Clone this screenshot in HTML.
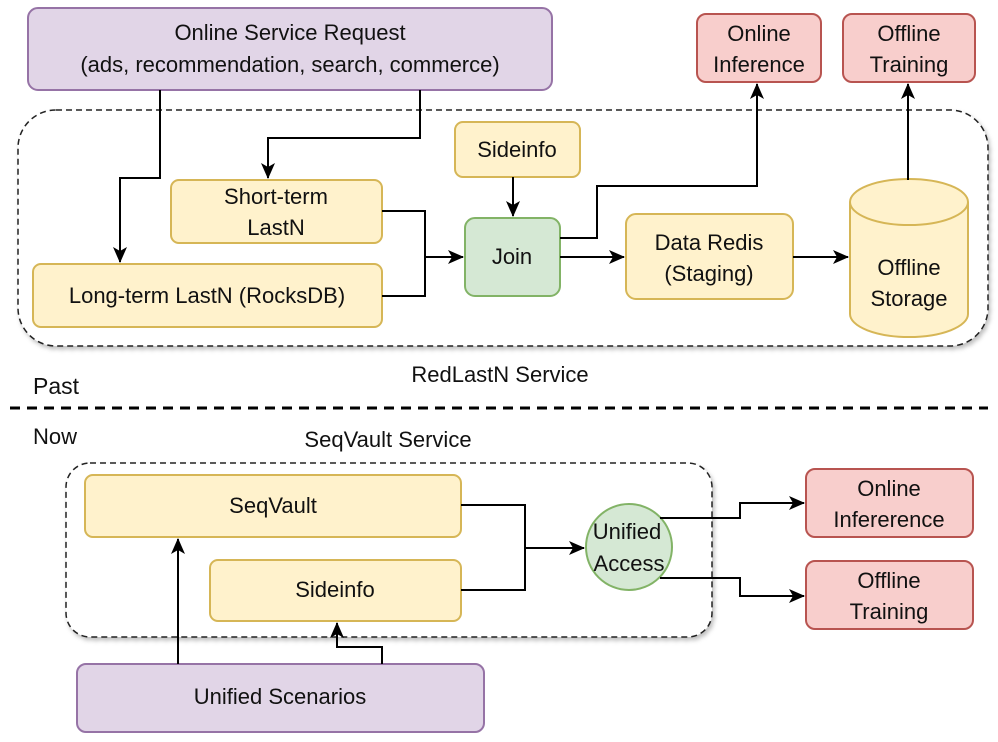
<!DOCTYPE html>
<html><head><meta charset="utf-8"><style>
html,body{margin:0;padding:0;background:#fff;}
svg{display:block;}
text{font-family:"Liberation Sans",Arial,sans-serif;font-size:22px;fill:#111;text-anchor:middle;}
</style></head><body>
<svg width="998" height="742" viewBox="0 0 998 742" xmlns="http://www.w3.org/2000/svg">
<defs>
<marker id="a" markerWidth="16" markerHeight="14" refX="15" refY="7" orient="auto" markerUnits="userSpaceOnUse"><path d="M0,0 L16,7 L0,14 L4,7 z" fill="#000"/></marker>
<filter id="sh" x="-5%" y="-5%" width="110%" height="115%"><feDropShadow dx="2" dy="3" stdDeviation="2" flood-color="#000" flood-opacity="0.25"/></filter>
</defs>
<rect x="18" y="110" width="970" height="236" rx="38" fill="#fff" stroke="#222" stroke-width="1.5" stroke-dasharray="6,4" filter="url(#sh)"/>
<rect x="66" y="463" width="646" height="174" rx="24" fill="#fff" stroke="#222" stroke-width="1.5" stroke-dasharray="6,4" filter="url(#sh)"/>

<rect x="28" y="8" width="524" height="82" rx="10" fill="#e1d5e7" stroke="#9673a6" stroke-width="2"/>
<text x="290" y="40">Online Service Request</text>
<text x="290" y="72">(ads, recommendation, search, commerce)</text>
<rect x="697" y="14" width="124" height="68" rx="9" fill="#f8cecc" stroke="#b85450" stroke-width="2"/>
<text x="759" y="41">Online</text><text x="759" y="72">Inference</text>
<rect x="843" y="14" width="132" height="68" rx="9" fill="#f8cecc" stroke="#b85450" stroke-width="2"/>
<text x="909" y="41">Offline</text><text x="909" y="72">Training</text>

<rect x="455" y="122" width="125" height="55" rx="8" fill="#fff2cc" stroke="#d6b656" stroke-width="2"/>
<text x="517" y="157">Sideinfo</text>
<rect x="171" y="180" width="211" height="63" rx="8" fill="#fff2cc" stroke="#d6b656" stroke-width="2"/>
<text x="276" y="204">Short-term</text><text x="276" y="235">LastN</text>
<rect x="33" y="264" width="349" height="63" rx="8" fill="#fff2cc" stroke="#d6b656" stroke-width="2"/>
<text x="207" y="303">Long-term LastN (RocksDB)</text>
<rect x="465" y="218" width="95" height="78" rx="10" fill="#d5e8d4" stroke="#82b366" stroke-width="2"/>
<text x="512" y="264">Join</text>
<rect x="626" y="214" width="167" height="85" rx="10" fill="#fff2cc" stroke="#d6b656" stroke-width="2"/>
<text x="709" y="250">Data Redis</text><text x="709" y="281">(Staging)</text>
<path d="M850,202 L850,314 A59,23 0 0 0 968,314 L968,202 A59,23 0 0 0 850,202 Z" fill="#fff2cc" stroke="#d6b656" stroke-width="2"/>
<path d="M850,202 A59,23 0 0 0 968,202" fill="none" stroke="#d6b656" stroke-width="2"/>
<text x="909" y="275">Offline</text><text x="909" y="306">Storage</text>

<g fill="none" stroke="#000" stroke-width="2">
<path d="M160,90 V178 H120 V262" marker-end="url(#a)"/>
<path d="M420,90 V138 H268 V178" marker-end="url(#a)"/>
<path d="M382,211 H425 V296 H382"/>
<path d="M425,257 H463" marker-end="url(#a)"/>
<path d="M513,177 V216" marker-end="url(#a)"/>
<path d="M560,238 H597 V186 H757 V84" marker-end="url(#a)"/>
<path d="M560,257 H624" marker-end="url(#a)"/>
<path d="M793,257 H848" marker-end="url(#a)"/>
<path d="M908,180 V84" marker-end="url(#a)"/>
</g>

<text x="500" y="382">RedLastN Service</text>
<text x="56" y="394" style="font-size:23px">Past</text>
<line x1="10" y1="408" x2="988" y2="408" stroke="#000" stroke-width="3" stroke-dasharray="10,7"/>
<text x="55" y="444">Now</text>
<text x="388" y="447">SeqVault Service</text>

<rect x="85" y="475" width="376" height="62" rx="8" fill="#fff2cc" stroke="#d6b656" stroke-width="2"/>
<text x="273" y="513">SeqVault</text>
<rect x="210" y="560" width="251" height="61" rx="8" fill="#fff2cc" stroke="#d6b656" stroke-width="2"/>
<text x="335" y="597">Sideinfo</text>
<circle cx="629" cy="547" r="43" fill="#d5e8d4" stroke="#82b366" stroke-width="2"/>
<text x="627" y="539">Unified</text><text x="629" y="571">Access</text>
<rect x="806" y="469" width="167" height="68" rx="9" fill="#f8cecc" stroke="#b85450" stroke-width="2"/>
<text x="889" y="496">Online</text><text x="889" y="527">Infererence</text>
<rect x="806" y="561" width="167" height="68" rx="9" fill="#f8cecc" stroke="#b85450" stroke-width="2"/>
<text x="889" y="588">Offline</text><text x="889" y="619">Training</text>
<rect x="77" y="664" width="407" height="68" rx="9" fill="#e1d5e7" stroke="#9673a6" stroke-width="2"/>
<text x="280" y="704">Unified Scenarios</text>

<g fill="none" stroke="#000" stroke-width="2">
<path d="M461,505 H525 V590 H461"/>
<path d="M525,548 H584" marker-end="url(#a)"/>
<path d="M660,518 H740 V503 H804" marker-end="url(#a)"/>
<path d="M660,578 H740 V596 H804" marker-end="url(#a)"/>
<path d="M178,664 V539" marker-end="url(#a)"/>
<path d="M382,664 V647 H337 V623" marker-end="url(#a)"/>
</g>
</svg>
</body></html>
